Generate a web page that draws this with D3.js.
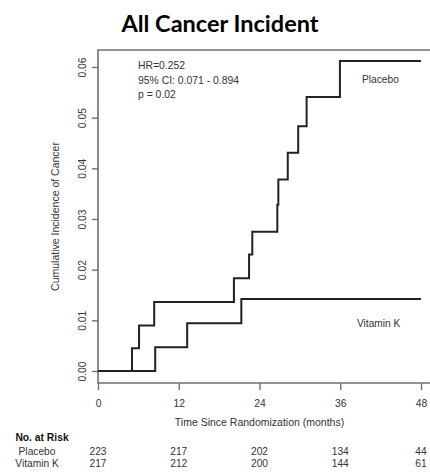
<!DOCTYPE html>
<html><head><meta charset="utf-8">
<script src="https://cdn.jsdelivr.net/npm/d3@7"></script>
<style>
html,body{margin:0;padding:0;background:#fff;}
svg{display:block;}
text{font-family:"Liberation Sans",Arial,sans-serif;fill:#333;}
</style></head>
<body>
<script>
const title = "All Cancer Incident";
const placeboTimes = [0, 5.05, 6.1, 8.35, 20.2, 22.45, 22.93, 26.65, 26.8, 28.2, 29.75, 31.0, 35.95];
const placeboValues = [0, 0.0045, 0.009, 0.0136, 0.0183, 0.023, 0.0275, 0.0328, 0.0378, 0.0431, 0.0483, 0.0541, 0.0612];
const vitkTimes = [0, 8.5, 13.25, 21.3];
const vitkValues = [0, 0.0047, 0.0094, 0.0142];
const endTime = 48;
const xTicks = [0, 12, 24, 36, 48];
const yTicks = [0, 0.01, 0.02, 0.03, 0.04, 0.05, 0.06];
const statsLines = ["HR=0.252", "95% CI: 0.071 - 0.894", "p = 0.02"];
const groups = ["Placebo", "Vitamin K"];
const riskPlacebo = [223, 217, 202, 134, 44];
const riskVitK = [217, 212, 200, 144, 61];

const W = 430, H = 472;
const svg = d3.select("body").append("svg").attr("width", W).attr("height", H);

const x = d3.scaleLinear().domain([0, 48]).range([98, 421]);
const y = d3.scaleLinear().domain([0, 0.06]).range([371, 67]);
const boxTop = 50, boxBottom = 383, boxLeft = 98;
const axisCol = "#707070";

// title
svg.append("text").attr("x", 220).attr("y", 32).attr("text-anchor", "middle")
  .style("font-family", "Lato, 'Open Sans', sans-serif").style("font-weight", "bold")
  .style("font-size", "23.5px").style("fill", "#000").text(title);

// box: left, top, bottom (right side off canvas)
svg.append("path")
  .attr("d", `M${W + 5},${boxTop}H${boxLeft}V${boxBottom}H${W + 5}`)
  .attr("fill", "none").attr("stroke", axisCol).attr("stroke-width", 1.6);

// x axis
const xAxis = d3.axisBottom(x).tickValues(xTicks).tickSize(7).tickPadding(10).tickSizeOuter(0);
const gx = svg.append("g").attr("transform", `translate(0,${boxBottom})`).call(xAxis);
gx.select(".domain").remove();
gx.selectAll("line").attr("stroke", axisCol).attr("stroke-width", 1.4);
gx.selectAll("text").style("font-size", "10.3px").style("fill", "#333")
  .style("font-family", "'Liberation Sans', Arial, sans-serif");

// y axis
const yAxis = d3.axisLeft(y).tickValues(yTicks).tickSize(6).tickFormat(d3.format(".2f")).tickSizeOuter(0);
const gy = svg.append("g").attr("transform", `translate(${boxLeft},0)`).call(yAxis);
gy.select(".domain").remove();
gy.selectAll("line").attr("stroke", axisCol).attr("stroke-width", 1.4);
gy.selectAll("text").attr("x", null).attr("dy", null)
  .attr("transform", "translate(-12,0) rotate(-90)")
  .attr("text-anchor", "middle")
  .style("font-size", "10.3px").style("fill", "#333")
  .style("font-family", "'Liberation Sans', Arial, sans-serif");

// axis titles
svg.append("text").attr("x", 259.5).attr("y", 426).attr("text-anchor", "middle")
  .style("font-size", "10.5px").text("Time Since Randomization (months)");
svg.append("text").attr("transform", `translate(59,216.5) rotate(-90)`).attr("text-anchor", "middle")
  .style("font-size", "10.5px").text("Cumulative Incidence of Cancer");

// curves
const line = d3.line().x(d => x(d[0])).y(d => y(d[1])).curve(d3.curveStepAfter);
function series(times, vals) {
  const pts = times.map((t, i) => [t, vals[i]]);
  pts.push([endTime, vals[vals.length - 1]]);
  return pts;
}
svg.append("path").datum(series(placeboTimes, placeboValues)).attr("d", line)
  .attr("fill", "none").attr("stroke", "#222").attr("stroke-width", 2);
svg.append("path").datum(series(vitkTimes, vitkValues)).attr("d", line)
  .attr("fill", "none").attr("stroke", "#222").attr("stroke-width", 2);

// stats text
svg.append("g").selectAll("text").data(statsLines).join("text")
  .attr("x", 138).attr("y", (d, i) => 69 + i * 14.5)
  .style("font-size", "10.4px").text(d => d);

// curve labels
svg.append("text").attr("x", 362).attr("y", 83).style("font-size", "10.2px").text(groups[0]);
svg.append("text").attr("x", 357).attr("y", 327).style("font-size", "10.2px").text(groups[1]);

// risk table
svg.append("text").attr("x", 42).attr("y", 441).attr("text-anchor", "middle")
  .style("font-size", "10.3px").style("font-weight", "bold").style("fill", "#111").text("No. at Risk");
const rows = [riskPlacebo, riskVitK];
rows.forEach((r, ri) => {
  const yy = 455 + ri * 12;
  svg.append("text").attr("x", 37).attr("y", yy).attr("text-anchor", "middle")
    .style("font-size", "10.2px").text(groups[ri]);
  svg.append("g").selectAll("text").data(r).join("text")
    .attr("x", (d, i) => x(xTicks[i])).attr("y", yy).attr("text-anchor", "middle")
    .style("font-size", "10.2px").text(d => d);
});
</script>
</body></html>
